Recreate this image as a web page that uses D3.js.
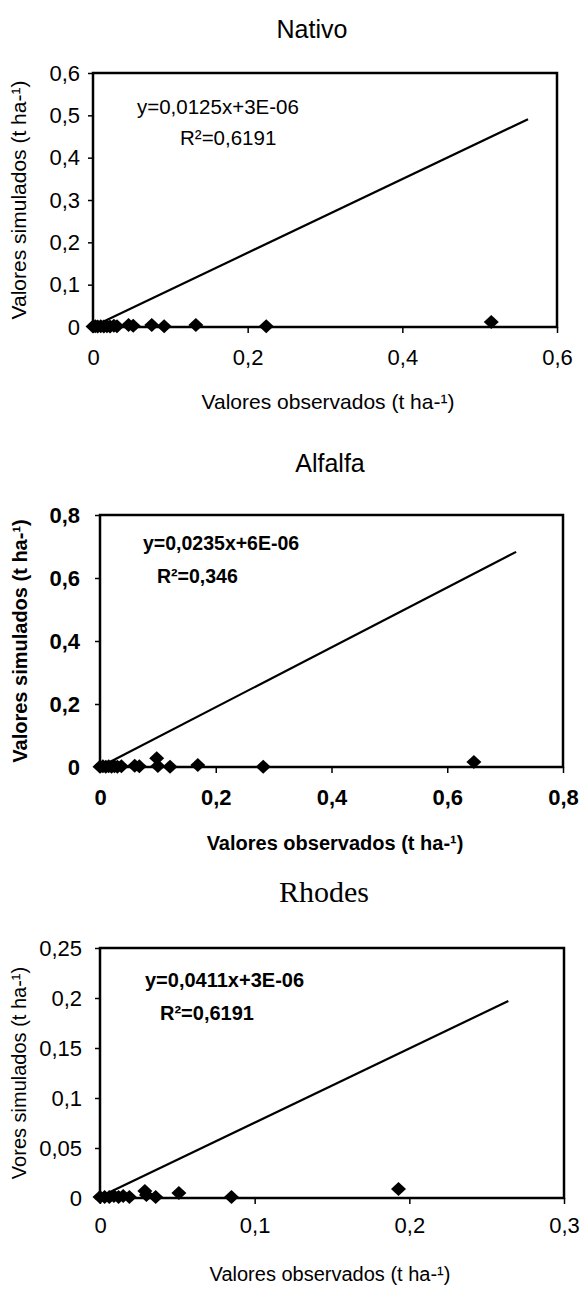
<!DOCTYPE html>
<html>
<head>
<meta charset="utf-8">
<script src="https://d3js.org/d3.v7.min.js"></script>
<style>
  body { margin: 0; background: #fff; }
  svg { display: block; }
</style>
</head>
<body>
<svg id="mainsvg"></svg>
<script>
// ---- data ----
const titles = ["Nativo", "Alfalfa", "Rhodes"];

const nativoObs = [0, 0.003, 0.006, 0.010, 0.014, 0.018, 0.022, 0.027, 0.031, 0.046, 0.052, 0.076, 0.092, 0.133, 0.224, 0.515];
const nativoSim = [0.001, 0.002, 0.001, 0.002, 0.001, 0.002, 0.001, 0.003, 0.002, 0.005, 0.003, 0.005, 0.002, 0.005, 0.002, 0.012];

const alfalfaObs = [0, 0.005, 0.010, 0.015, 0.020, 0.025, 0.030, 0.037, 0.060, 0.068, 0.098, 0.100, 0.121, 0.169, 0.282, 0.646];
const alfalfaSim = [0.001, 0.002, 0.001, 0.002, 0.001, 0.002, 0.001, 0.002, 0.004, 0.002, 0.028, 0.003, 0.001, 0.006, 0.001, 0.016];

const rhodesObs = [0, 0.003, 0.006, 0.009, 0.012, 0.015, 0.019, 0.029, 0.030, 0.036, 0.051, 0.085, 0.193];
const rhodesSim = [0.001, 0.001, 0.001, 0.002, 0.001, 0.002, 0.001, 0.007, 0.003, 0.001, 0.005, 0.001, 0.009];

// trend line end points [obs, sim]
const nativoTrend = [[0.009, 0.009], [0.5625, 0.491]];
const alfalfaTrend = [[0.017, 0.016], [0.719, 0.683]];
const rhodesTrend = [[0.0065, 0.006], [0.264, 0.197]];

const nativoXTicks = [0, 0.2, 0.4, 0.6];
const nativoYTicks = [0, 0.1, 0.2, 0.3, 0.4, 0.5, 0.6];
const alfalfaXTicks = [0, 0.2, 0.4, 0.6, 0.8];
const alfalfaYTicks = [0, 0.2, 0.4, 0.6, 0.8];
const rhodesXTicks = [0, 0.1, 0.2, 0.3];
const rhodesYTicks = [0, 0.05, 0.1, 0.15, 0.2, 0.25];

const equations = ["y=0,0125x+3E-06", "y=0,0235x+6E-06", "y=0,0411x+3E-06"];
const rSquared = ["R²=0,6191", "R²=0,346", "R²=0,6191"];
const yLabels = ["Valores simulados (t ha-¹)", "Valores simulados (t ha-¹)", "Vores simulados (t ha-¹)"];
const xLabel = "Valores observados (t ha-¹)";

// ---- layout of the three panels ----
const sans = "'Liberation Sans', Arial, sans-serif";
const panels = [
  { title: titles[0], obs: nativoObs, sim: nativoSim, trend: nativoTrend,
    xTicks: nativoXTicks, yTicks: nativoYTicks,
    left: 93, right: 557, top: 73, bottom: 327,
    weight: "normal", titleFont: sans, titleSize: 25, titleX: 312, titleY: 38,
    tickSize: 22, yPad: 8, xPad: 8,
    eqX: 137, eqY: 114, rX: 180, rY: 145, eqSize: 20.5,
    yLabelX: 26, xLabelX: 328, xLabelY: 409, labelSize: 21 },
  { title: titles[1], obs: alfalfaObs, sim: alfalfaSim, trend: alfalfaTrend,
    xTicks: alfalfaXTicks, yTicks: alfalfaYTicks,
    left: 100, right: 563, top: 515, bottom: 767,
    weight: "bold", titleFont: sans, titleSize: 25, titleX: 330, titleY: 472,
    tickSize: 22, yPad: 15, xPad: 8,
    eqX: 143, eqY: 550, rX: 157, rY: 583, eqSize: 19.5,
    yLabelX: 27, xLabelX: 335, xLabelY: 850, labelSize: 20 },
  { title: titles[2], obs: rhodesObs, sim: rhodesSim, trend: rhodesTrend,
    xTicks: rhodesXTicks, yTicks: rhodesYTicks,
    left: 100, right: 564, top: 948, bottom: 1198,
    weight: "normal", titleFont: "'Liberation Serif', 'Times New Roman', serif", titleSize: 30, titleX: 324, titleY: 902,
    tickSize: 22, yPad: 13, xPad: 5,
    eqX: 145, eqY: 987, rX: 160, rY: 1020, eqSize: 20, eqWeight: "bold",
    yLabelX: 26, xLabelX: 330, xLabelY: 1281, labelSize: 20 }
];

const width = 580, height = 1290;
const fmt = d => String(d).replace(".", ",");

const svg = d3.select("#mainsvg")
  .attr("width", width)
  .attr("height", height)
  .attr("viewBox", [0, 0, width, height])
  .style("font-family", sans);

panels.forEach((p, i) => {
  const x = d3.scaleLinear([0, d3.max(p.xTicks)], [p.left, p.right]);
  const y = d3.scaleLinear([0, d3.max(p.yTicks)], [p.bottom, p.top]);
  const g = svg.append("g");

  // title
  g.append("text")
    .attr("x", p.titleX).attr("y", p.titleY)
    .attr("text-anchor", "middle")
    .style("font-family", p.titleFont)
    .style("font-size", p.titleSize + "px")
    .text(p.title);

  // plot box
  g.append("rect")
    .attr("x", x(0)).attr("y", y(d3.max(p.yTicks)))
    .attr("width", x(d3.max(p.xTicks)) - x(0))
    .attr("height", y(0) - y(d3.max(p.yTicks)))
    .attr("fill", "none").attr("stroke", "#000").attr("stroke-width", 2.5);

  // axes
  const yAxis = g.append("g")
    .attr("transform", `translate(${p.left},0)`)
    .call(d3.axisLeft(y).tickValues(p.yTicks).tickFormat(fmt).tickSize(5).tickPadding(p.yPad).tickSizeOuter(0));
  const xAxis = g.append("g")
    .attr("transform", `translate(0,${p.bottom})`)
    .call(d3.axisBottom(x).tickValues(p.xTicks).tickFormat(fmt).tickSize(6).tickPadding(p.xPad + 8).tickSizeOuter(0));
  [yAxis, xAxis].forEach(a => {
    a.select(".domain").remove();
    a.selectAll(".tick line").attr("stroke", "#000").attr("stroke-width", 1.5);
    a.selectAll(".tick text")
      .attr("fill", "#000")
      .style("font-family", sans)
      .style("font-size", p.tickSize + "px")
      .style("font-weight", p.weight);
  });

  // trend line
  g.append("path")
    .attr("d", d3.line().x(d => x(d[0])).y(d => y(d[1]))(p.trend))
    .attr("fill", "none").attr("stroke", "#000").attr("stroke-width", 2.2);

  // points
  g.append("g").selectAll("path")
    .data(p.obs.map((o, k) => [o, p.sim[k]]))
    .join("path")
    .attr("d", "M0,-7L7.5,0L0,7L-7.5,0Z")
    .attr("transform", d => `translate(${x(d[0])},${y(d[1])})`)
    .attr("fill", "#000");

  // equation + R²
  const ew = p.eqWeight || p.weight;
  g.append("text")
    .attr("x", p.eqX).attr("y", p.eqY)
    .style("font-size", p.eqSize + "px").style("font-weight", ew)
    .text(equations[i]);
  g.append("text")
    .attr("x", p.rX).attr("y", p.rY)
    .style("font-size", p.eqSize + "px").style("font-weight", ew)
    .text(rSquared[i]);

  // axis titles
  g.append("text")
    .attr("transform", `translate(${p.yLabelX},${(p.top + p.bottom) / 2}) rotate(-90)`)
    .attr("text-anchor", "middle")
    .style("font-size", p.labelSize + "px").style("font-weight", p.weight)
    .text(yLabels[i]);
  g.append("text")
    .attr("x", p.xLabelX).attr("y", p.xLabelY)
    .attr("text-anchor", "middle")
    .style("font-size", p.labelSize + "px").style("font-weight", p.weight)
    .text(xLabel);
});
</script>
</body>
</html>
